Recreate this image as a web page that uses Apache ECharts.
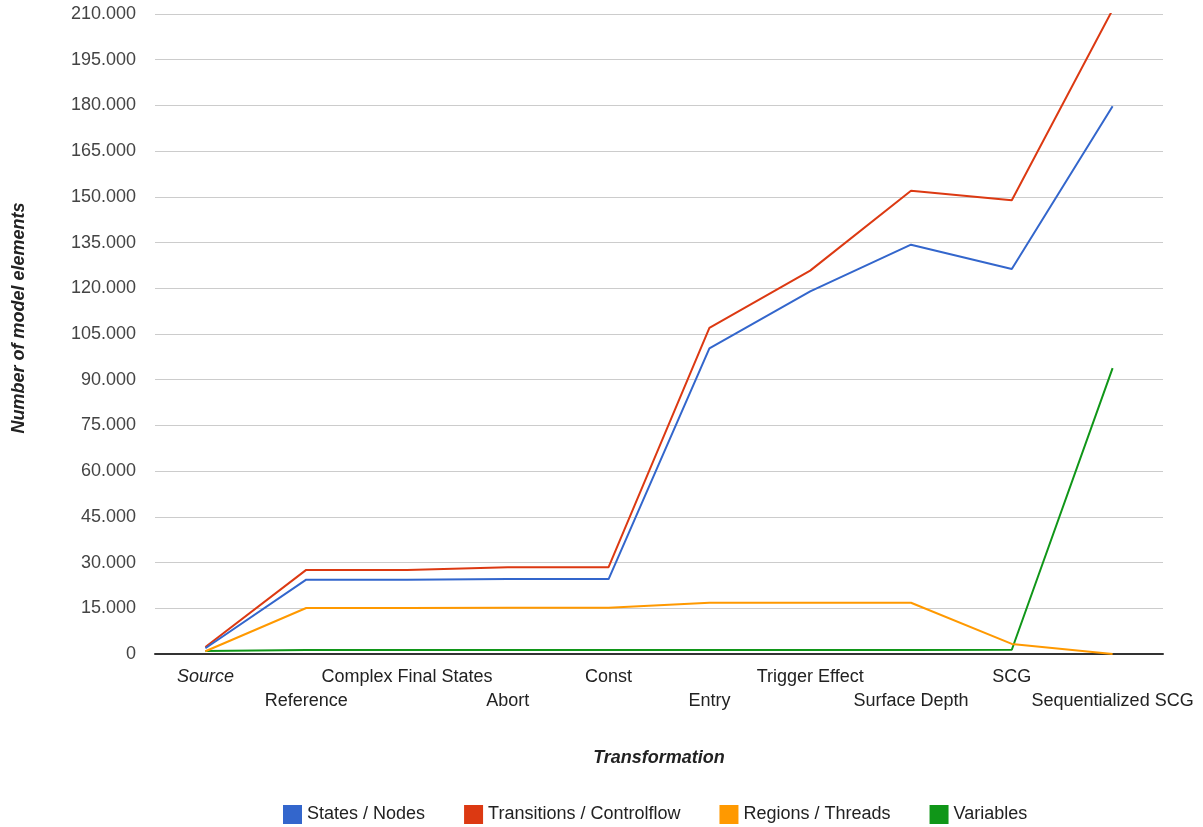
<!DOCTYPE html>
<html>
<head>
<meta charset="utf-8">
<script src="https://cdn.jsdelivr.net/npm/echarts@6/dist/echarts.min.js"></script>
<style>
  html, body { margin: 0; padding: 0; background: #fff; }
  #chart { width: 1203px; height: 827px; }
</style>
</head>
<body>
<div id="chart"></div>
<script>
// Transformation steps along the x axis
const categories = ['Source', 'Reference', 'Complex Final States', 'Abort', 'Const',
  'Entry', 'Trigger Effect', 'Surface Depth', 'SCG', 'Sequentialized SCG'];

// Model element counts per transformation
const statesNodes = [1900, 24400, 24400, 24600, 24600, 100300, 119000, 134300, 126300, 179700];
const transitionsControlflow = [2300, 27600, 27600, 28500, 28500, 107000, 125800, 152000, 148900, 211400];
const regionsThreads = [900, 15100, 15100, 15200, 15200, 16800, 16800, 16800, 3300, 0];
const variables = [1000, 1300, 1300, 1300, 1300, 1300, 1300, 1300, 1400, 93800];

const seriesNames = ['States / Nodes', 'Transitions / Controlflow', 'Regions / Threads', 'Variables'];
const seriesColors = ['#3366cc', '#dc3912', '#ff9900', '#109618'];
const seriesData = [statesNodes, transitionsControlflow, regionsThreads, variables];

const FONT = 'Liberation Sans, Arial, sans-serif';
const FS = 18;

function formatThousands(v) {
  return String(v).replace(/\B(?=(\d{3})+(?!\d))/g, '.');
}

const chart = echarts.init(document.getElementById('chart'), null, { renderer: 'canvas' });

chart.setOption({
  animation: false,
  backgroundColor: '#ffffff',
  grid: { left: 155, right: 40, top: 14, bottom: 173, containLabel: false, outerBoundsMode: 'none' },
  legend: {
    top: 800,
    left: 278,
    itemWidth: 19,
    itemHeight: 19,
    itemGap: 39,
    icon: 'rect',
    textStyle: { fontFamily: FONT, fontSize: FS, color: '#222' },
    data: seriesNames
  },
  xAxis: {
    type: 'category',
    data: categories,
    boundaryGap: true,
    name: 'Transformation',
    nameLocation: 'middle',
    nameGap: 95,
    nameTextStyle: { fontFamily: FONT, fontSize: FS, fontStyle: 'italic', fontWeight: 'bold', color: '#222' },
    axisLine: { show: true, lineStyle: { color: '#333', width: 2 } },
    axisTick: { show: false },
    axisLabel: {
      interval: 0,
      margin: 11,
      fontFamily: FONT,
      fontSize: FS,
      color: '#222',
      lineHeight: 24,
      formatter: function (value, idx) {
        if (idx === 0) return '{it|' + value + '}';
        return idx % 2 === 1 ? '\n' + value : value;
      },
      rich: {
        it: { fontFamily: FONT, fontSize: FS, fontStyle: 'italic', color: '#222', lineHeight: 24 }
      }
    },
    splitLine: { show: false }
  },
  yAxis: {
    type: 'value',
    min: 0,
    max: 210000,
    interval: 15000,
    name: 'Number of model elements',
    nameLocation: 'middle',
    nameGap: 127,
    nameTextStyle: {
      fontFamily: FONT, fontSize: FS, fontStyle: 'italic', fontWeight: 'bold', color: '#222',
      padding: [0, 0, 0, 32]
    },
    axisLine: { show: false },
    axisTick: { show: false },
    axisLabel: {
      margin: 19,
      fontFamily: FONT,
      fontSize: FS,
      color: '#444',
      padding: [3, 0, 0, 0],
      formatter: formatThousands
    },
    splitLine: { show: true, lineStyle: { color: '#cccccc', width: 1 } }
  },
  series: seriesNames.map(function (name, i) {
    return {
      name: name,
      type: 'line',
      data: seriesData[i],
      color: seriesColors[i],
      symbol: 'none',
      smooth: false,
      lineStyle: { width: 2, color: seriesColors[i] },
      z: 10 - i
    };
  })
});
</script>
</body>
</html>
